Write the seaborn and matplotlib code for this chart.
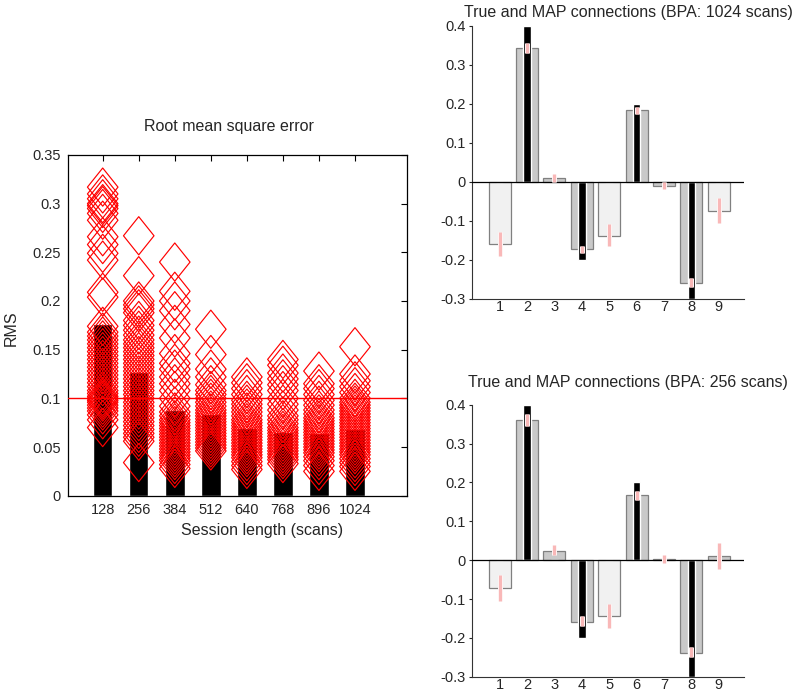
import numpy as np
import pandas as pd
import matplotlib
matplotlib.use("Agg")
import matplotlib.pyplot as plt
import matplotlib.patheffects as pe
from matplotlib.path import Path
import seaborn as sns

# ---------------- data ----------------
session_lengths = ["128", "256", "384", "512", "640", "768", "896", "1024"]
mean_rms = [0.176, 0.127, 0.088, 0.084, 0.070, 0.065, 0.064, 0.068]

rms_128 = [0.317, 0.31, 0.305, 0.30, 0.298, 0.295, 0.29, 0.283, 0.266, 0.258, 0.249, 0.242,
           0.209, 0.204, 0.174, 0.168, 0.164, 0.16, 0.156, 0.152, 0.148, 0.144, 0.14, 0.136,
           0.132, 0.128, 0.124, 0.12, 0.116, 0.112, 0.108, 0.105, 0.102, 0.10, 0.098, 0.096,
           0.093, 0.09, 0.087, 0.083, 0.078, 0.07]
rms_256 = [0.267, 0.226, 0.2, 0.196, 0.192, 0.188, 0.18, 0.175, 0.17, 0.165, 0.16, 0.156,
           0.152, 0.148, 0.144, 0.14, 0.136, 0.132, 0.128, 0.124, 0.12, 0.116, 0.112, 0.108,
           0.104, 0.1, 0.096, 0.092, 0.088, 0.084, 0.08, 0.076, 0.072, 0.068, 0.064, 0.06,
           0.056, 0.034]
rms_384 = [0.24, 0.21, 0.2, 0.19, 0.176, 0.162, 0.146, 0.136, 0.13, 0.122, 0.115, 0.108,
           0.1, 0.092, 0.086, 0.082, 0.078, 0.075, 0.072, 0.069, 0.066, 0.063, 0.06, 0.057,
           0.054, 0.051, 0.048, 0.045, 0.042, 0.039, 0.036, 0.032, 0.028]
rms_512 = [0.171, 0.145, 0.13, 0.122, 0.114, 0.108, 0.104, 0.1, 0.096, 0.092, 0.088, 0.085,
           0.082, 0.079, 0.076, 0.073, 0.07, 0.067, 0.064, 0.061, 0.058, 0.055, 0.052,
           0.049, 0.046]
rms_640 = [0.122, 0.116, 0.11, 0.104, 0.098, 0.094, 0.09, 0.086, 0.082, 0.078, 0.075, 0.072,
           0.069, 0.066, 0.063, 0.06, 0.057, 0.054, 0.051, 0.048, 0.045, 0.042, 0.039,
           0.035, 0.031, 0.027]
rms_768 = [0.14, 0.134, 0.126, 0.12, 0.114, 0.108, 0.1, 0.094, 0.088, 0.082, 0.078, 0.074,
           0.07, 0.067, 0.064, 0.061, 0.058, 0.055, 0.052, 0.049, 0.046, 0.043, 0.04,
           0.037, 0.033]
rms_896 = [0.128, 0.115, 0.11, 0.104, 0.098, 0.093, 0.088, 0.084, 0.08, 0.077, 0.074, 0.071,
           0.068, 0.065, 0.062, 0.059, 0.056, 0.053, 0.05, 0.047, 0.044, 0.04, 0.036,
           0.031, 0.025]
rms_1024 = [0.153, 0.125, 0.118, 0.112, 0.106, 0.1, 0.096, 0.093, 0.09, 0.087, 0.084, 0.081,
            0.078, 0.075, 0.072, 0.069, 0.066, 0.063, 0.06, 0.057, 0.054, 0.051, 0.048,
            0.045, 0.042, 0.038, 0.034, 0.03, 0.025]
rms_threshold = 0.1

connections = ["1", "2", "3", "4", "5", "6", "7", "8", "9"]
true_conn = [0.0, 0.4, 0.0, -0.2, 0.0, 0.2, 0.0, -0.3, 0.0]

map_1024 = [-0.160, 0.343, 0.010, -0.173, -0.138, 0.185, -0.010, -0.260, -0.075]
ci_lo_1024 = [-0.190, 0.332, 0.000, -0.183, -0.164, 0.174, -0.019, -0.270, -0.106]
ci_hi_1024 = [-0.128, 0.357, 0.020, -0.163, -0.108, 0.193, 0.000, -0.247, -0.041]
shade_1024 = ["light", "dark", "dark", "dark", "light", "dark", "dark", "dark", "light"]

map_256 = [-0.071, 0.360, 0.024, -0.158, -0.144, 0.167, 0.003, -0.238, 0.010]
ci_lo_256 = [-0.105, 0.345, 0.012, -0.169, -0.175, 0.156, -0.008, -0.250, -0.023]
ci_hi_256 = [-0.038, 0.376, 0.038, -0.144, -0.114, 0.178, 0.012, -0.223, 0.044]
shade_256 = ["light", "dark", "dark", "dark", "light", "dark", "dark", "dark", "dark"]

# ---------------- style ----------------
sns.set_style("white")
plt.rcParams["font.family"] = ["Liberation Sans", "DejaVu Sans"]
plt.rcParams["font.size"] = 10

fig = plt.figure(figsize=(7.92, 6.95), dpi=100)

# ---------------- left panel ----------------
axL = fig.add_axes([0.0855, 0.2868, 0.428, 0.4902])
dfm = pd.DataFrame({"length": session_lengths, "rms": mean_rms})
sns.barplot(data=dfm, x="length", y="rms", order=session_lengths, color="black",
            saturation=1, width=0.54, ax=axL)

axL.axhline(rms_threshold, color="red", lw=1.0, zorder=3)

groups = [rms_128, rms_256, rms_384, rms_512, rms_640, rms_768, rms_896, rms_1024]
pts = pd.DataFrame({
    "length": np.repeat(session_lengths, [len(g) for g in groups]),
    "rms": np.concatenate(groups),
})
pts["pos"] = pts["length"].map({c: i for i, c in enumerate(session_lengths)})
diamond = Path([(0, 1), (0.8, 0), (0, -1), (-0.8, 0), (0, 1)],
               [Path.MOVETO, Path.LINETO, Path.LINETO, Path.LINETO, Path.CLOSEPOLY])
axL.scatter(pts["pos"], pts["rms"], marker=diamond, s=27.5 ** 2, facecolors="none",
            edgecolors="red", linewidths=0.85, zorder=4)

axL.set_xlim(-0.971, 8.435)
axL.set_ylim(0, 0.35)
yt = [0, 0.05, 0.1, 0.15, 0.2, 0.25, 0.3, 0.35]
axL.set_yticks(yt)
axL.set_yticklabels(["0", "0.05", "0.1", "0.15", "0.2", "0.25", "0.3", "0.35"])
axL.tick_params(direction="in", length=4, width=0.8, top=True, right=True,
                labelsize=10.5, pad=5, color="black")
for s in axL.spines.values():
    s.set_color("black")
    s.set_linewidth(0.9)
axL.set_xlabel("")
axL.set_ylabel("")
fig.text(0.331, 1 - 530 / 695, "Session length (scans)", ha="center", va="center",
         fontsize=11.5)
fig.text(11 / 792, 1 - 328 / 695, "RMS", ha="center", va="center", rotation=90,
         fontsize=11.5)
fig.text(229 / 792, 1 - 127 / 695, "Root mean square error", ha="center", va="center",
         fontsize=11.5)


# ---------------- right panels ----------------
def conn_panel(rect, map_vals, lo, hi, shade, title, title_y):
    ax = fig.add_axes(rect)
    df = pd.DataFrame({"conn": connections, "map": map_vals, "shade": shade,
                       "true": true_conn})
    sns.barplot(data=df, x="conn", y="map", hue="shade", order=connections,
                palette={"light": "#f1f1f1", "dark": "#c9c9c9"}, saturation=1,
                width=0.8, dodge=False, edgecolor="#808080", linewidth=0.9,
                legend=False, ax=ax)
    sns.barplot(data=df, x="conn", y="true", order=connections, color="black",
                saturation=1, width=0.28, ax=ax)
    pos = np.arange(len(connections))
    ax.vlines(pos, lo, hi, colors="#f9b8b8", linewidth=2.4, zorder=5,
              path_effects=[pe.Stroke(linewidth=3.6, foreground="white"), pe.Normal()])
    ax.axhline(0, color="black", lw=0.9, zorder=4)
    ax.set_xlim(-1, 8.92)
    ax.set_ylim(-0.3, 0.4)
    ax.set_yticks([-0.3, -0.2, -0.1, 0, 0.1, 0.2, 0.3, 0.4])
    ax.set_yticklabels(["-0.3", "-0.2", "-0.1", "0", "0.1", "0.2", "0.3", "0.4"])
    ax.tick_params(axis="y", direction="out", length=2.5, width=0.8, labelsize=10.5, pad=2,
                   left=True)
    ax.tick_params(axis="x", direction="out", length=0, width=0.8, labelsize=10.5, pad=1,
                   bottom=True)
    ax.spines["top"].set_visible(False)
    ax.spines["right"].set_visible(False)
    ax.spines["left"].set_color("#333333")
    ax.spines["bottom"].set_color("#333333")
    ax.set_xlabel("")
    ax.set_ylabel("")
    fig.text(628 / 792, 1 - title_y / 695, title, ha="center", va="center",
             fontsize=11.5)
    return ax


conn_panel([0.5963, 0.5698, 0.343, 0.3928], map_1024, ci_lo_1024, ci_hi_1024, shade_1024,
           "True and MAP connections (BPA: 1024 scans)", 13)
conn_panel([0.5963, 0.0263, 0.343, 0.3914], map_256, ci_lo_256, ci_hi_256, shade_256,
           "True and MAP connections (BPA: 256 scans)", 383)

fig.savefig("out.png", dpi=100)
